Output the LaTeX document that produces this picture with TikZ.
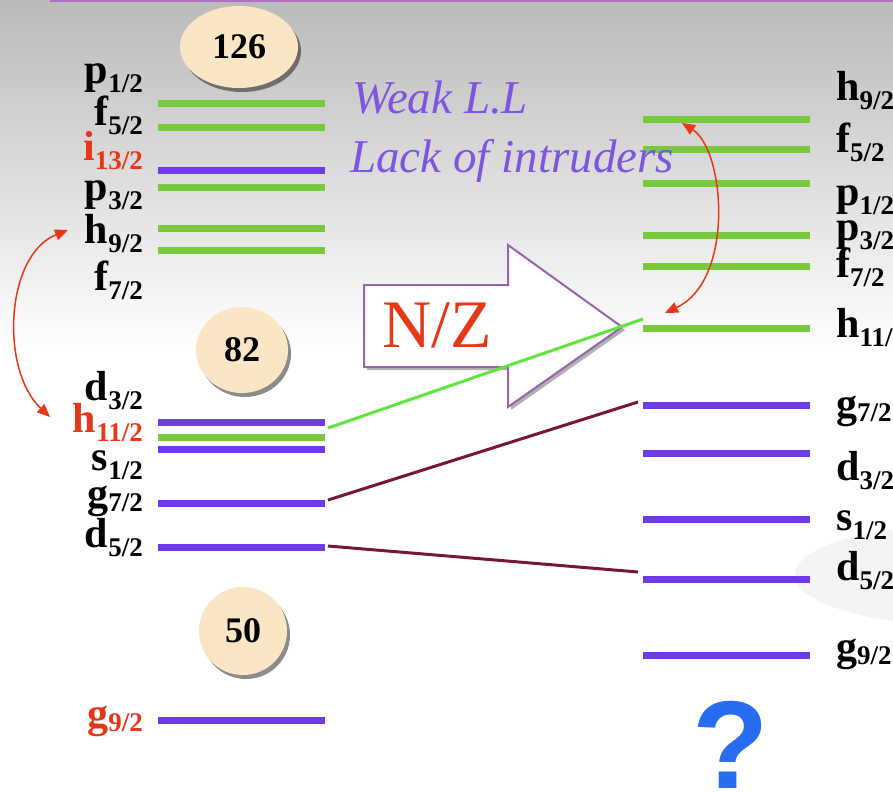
\documentclass[tikz,border=0pt]{standalone}
\usepackage{fontspec}
\setmainfont{Liberation Serif}
\newfontfamily\qsans{Liberation Sans}
\usetikzlibrary{arrows.meta,shapes.geometric,shadows}

\definecolor{lvgreen}{RGB}{122,201,60}
\definecolor{lvpurple}{RGB}{110,60,230}
\definecolor{hot}{RGB}{230,55,25}
\definecolor{txtpurple}{RGB}{125,85,225}
\definecolor{linkgreen}{RGB}{95,230,60}
\definecolor{linkmaroon}{RGB}{120,22,55}
\definecolor{beige}{RGB}{250,230,196}
\definecolor{arrowedge}{RGB}{150,100,170}
\definecolor{qblue}{RGB}{40,108,240}
\definecolor{topline}{RGB}{176,112,192}
\definecolor{bgtop}{RGB}{186,186,186}

% orbital label: letter with a lowered j-value
\newcommand{\orb}[2]{#1\raisebox{-9pt}{\fontsize{27}{27}\selectfont #2}}
% the g orbitals carry their j-value closer to the baseline
\newcommand{\orbg}[1]{g\raisebox{-4pt}{\fontsize{27}{27}\selectfont #1}}

\tikzset{
  gl/.style={draw=lvgreen, line width=7pt},
  pl/.style={draw=lvpurple, line width=7pt},
  lbl/.style={font=\bfseries\fontsize{42}{42}\selectfont, inner sep=0pt},
  lleft/.style={lbl, anchor=base east},
  lright/.style={lbl, anchor=base west},
  magic/.style={ellipse, fill=beige, inner sep=0pt,
    font=\bfseries\fontsize{36}{36}\selectfont,
    drop shadow={shadow xshift=3pt, shadow yshift=-4pt, fill=black, opacity=0.45}},
  link/.style={line width=3pt},
  swap/.style={hot, line width=1.5pt,
    {Triangle[length=13pt,width=11pt]}-{Triangle[length=13pt,width=11pt]}},
  note/.style={font=\itshape\fontsize{47}{47}\selectfont, text=txtpurple,
    inner sep=0pt, anchor=base west}
}

\begin{document}
\begin{tikzpicture}[x=1pt,y=-1pt]
\useasboundingbox (0,0) rectangle (893,792);
\begin{scope}
\clip (0,0) rectangle (893,792);

% background
\fill[white] (0,0) rectangle (893,792);
\shade[top color=bgtop, bottom color=white] (0,0) rectangle (893,350);
\fill[gray!9] (960,575) ellipse [x radius=165pt, y radius=50pt];
\draw[topline, line width=3pt] (50,1) -- (893,1);

% magic numbers
\node[magic, minimum width=118pt, minimum height=82pt] (m126) at (239,47) {126};
\node[magic, minimum width=92pt, minimum height=86pt] (m82) at (242,350) {82};
\node[magic, minimum width=88pt, minimum height=88pt] (m50) at (243,631) {50};

% left level scheme
\draw[gl] (158,103) -- (325,103);
\draw[gl] (158,127) -- (325,127);
\draw[pl] (158,170) -- (325,170);
\draw[gl] (158,187) -- (325,187);
\draw[gl] (158,228) -- (325,228);
\draw[gl] (158,250) -- (325,250);
\draw[pl] (158,422) -- (325,422);
\draw[gl] (158,437) -- (325,437);
\draw[pl] (158,449) -- (325,449);
\draw[pl] (158,503) -- (325,503);
\draw[pl] (158,547) -- (325,547);
\draw[pl] (158,720) -- (325,720);

% right level scheme
\draw[gl] (643,119) -- (810,119);
\draw[gl] (643,149) -- (810,149);
\draw[gl] (643,183) -- (810,183);
\draw[gl] (643,235) -- (810,235);
\draw[gl] (643,266) -- (810,266);
\draw[gl] (643,328) -- (810,328);
\draw[pl] (643,405) -- (810,405);
\draw[pl] (643,453) -- (810,453);
\draw[pl] (643,519) -- (810,519);
\draw[pl] (643,579) -- (810,579);
\draw[pl] (643,655) -- (810,655);

% N/Z block arrow
\fill[black, opacity=0.3] (367,288) -- (511,288) -- (511,248) -- (625,330)
  -- (511,410) -- (511,370) -- (367,370) -- cycle;
\draw[arrowedge, line width=2pt, fill=white, line join=miter]
  (364,285) -- (508,285) -- (508,245) -- (622,327) -- (508,407)
  -- (508,367) -- (364,367) -- cycle;
\node[text=hot, font=\fontsize{68}{68}\selectfont, inner sep=0pt, anchor=base]
  (nz) at (437,347) {N/Z};

% connector end points
\coordinate (Lh11) at (328,428);
\coordinate (Rh11) at (643,319);
\coordinate (Lg7) at (328,500);
\coordinate (Rg7) at (638,402);
\coordinate (Ld5) at (328,546);
\coordinate (Rd5) at (638,572);
\draw[link, linkgreen] (Lh11) -- (Rh11);
\draw[link, linkmaroon] (Lg7) -- (Rg7);
\draw[link, linkmaroon] (Ld5) -- (Rd5);

% intruder exchange arrows
\coordinate (la) at (68,230);
\coordinate (lb) at (50,417);
\coordinate (ra) at (682,123);
\coordinate (rb) at (665,313);
\draw[swap] (la) .. controls (5,255) and (0,370) .. (lb);
\draw[swap] (ra) .. controls (725,150) and (735,280) .. (rb);

% left labels
\node[lleft] (lp1) at (143,83) {\orb{p}{1/2}};
\node[lleft] (lf5) at (143,125) {\orb{f}{5/2}};
\node[lleft, text=hot] (li13) at (143,160) {\orb{i}{13/2}};
\node[lleft] (lp3) at (143,200) {\orb{p}{3/2}};
\node[lleft] (lh9) at (143,243) {\orb{h}{9/2}};
\node[lleft] (lf7) at (143,290) {\orb{f}{7/2}};
\node[lleft] (ld3) at (143,400) {\orb{d}{3/2}};
\node[lleft, text=hot] (lh11) at (143,432) {\orb{h}{11/2}};
\node[lleft] (ls1) at (143,470) {\orb{s}{1/2}};
\node[lleft] (lg7) at (143,507) {\orbg{7/2}};
\node[lleft] (ld5) at (143,547) {\orb{d}{5/2}};
\node[lleft, text=hot] (lg9) at (143,727) {\orbg{9/2}};

% right labels
\node[lright] (rh9) at (836,100) {\orb{h}{9/2}};
\node[lright] (rf5) at (836,152) {\orb{f}{5/2}};
\node[lright] (rp1) at (836,205) {\orb{p}{1/2}};
\node[lright] (rp3) at (836,240) {\orb{p}{3/2}};
\node[lright] (rf7) at (836,277) {\orb{f}{7/2}};
\node[lright] (rh11) at (836,337) {\orb{h}{11/2}};
\node[lright] (rg7) at (836,417) {\orbg{7/2}};
\node[lright] (rd3) at (836,480) {\orb{d}{3/2}};
\node[lright] (rs1) at (836,530) {\orb{s}{1/2}};
\node[lright] (rd5) at (836,580) {\orb{d}{5/2}};
\node[lright] (rg9) at (836,660) {\orbg{9/2}};

% remarks
\node[note] (weak) at (352,113) {Weak L.L};
\node[note] (lack) at (350,172) {Lack of intruders};

% question mark
\node[text=qblue, font=\qsans\bfseries\fontsize{125}{125}\selectfont,
  inner sep=0pt, anchor=base] (qm) at (731,788) {?};
\end{scope}
\end{tikzpicture}
\end{document}
